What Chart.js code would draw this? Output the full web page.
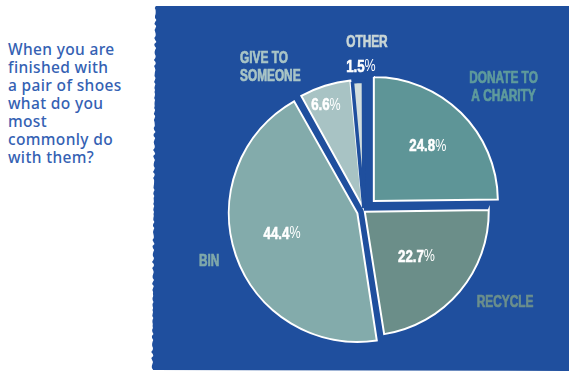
<!DOCTYPE html>
<html>
<head>
<meta charset="utf-8">
<script src="https://cdn.jsdelivr.net/npm/chart.js@4.4.1/dist/chart.umd.min.js"></script>
<style>
  html, body { margin: 0; padding: 0; background: #ffffff; }
  #wrap { position: relative; width: 569px; height: 371px; overflow: hidden; background: #ffffff; }
  #panel { position: absolute; left: 0; top: 6px; width: 569px; height: 365px; background: #1f4f9e; }
  #question {
    position: absolute; left: 8px; top: 40px; width: 145px;
    font-family: 'Noto Sans', 'Open Sans', sans-serif; font-size: 15.5px; line-height: 18px;
    font-weight: 500; letter-spacing: 0.35px; color: #3461b3; white-space: nowrap;
  }
  #chart { position: absolute; left: 0; top: 0; }
</style>
</head>
<body>
<div id="wrap">
  <div id="panel"></div>
  <div id="question">When you are<br>finished with<br>a pair of shoes<br>what do you<br>most<br>commonly do<br>with them?</div>
  <canvas id="chart" width="569" height="371"></canvas>
</div>
<script>
// Ragged, torn-paper left edge of the blue panel
(function () {
  const pts = [];
  for (let y = 0; y <= 365; y += 2) {
    const x = 155.5 - y * 0.009 + 0.5 * Math.sin(y * 2.3) + 0.4 * Math.sin(y * 0.9 + 1) + 0.4 * Math.sin(y * 5.1);
    pts.push(x.toFixed(1) + 'px ' + y + 'px');
  }
  pts.push('569px 365px', '569px 0px');
  document.getElementById('panel').style.clipPath = 'polygon(' + pts.join(',') + ')';
})();

// Survey answers, in drawing order (clockwise from 12 o'clock)
const categories = ['Donate to a charity', 'Recycle', 'Bin', 'Give to someone', 'Other'];
const nameLines = [['DONATE TO', 'A CHARITY'], ['RECYCLE'], ['BIN'], ['GIVE TO', 'SOMEONE'], ['OTHER']];
const shares = [24.8, 22.7, 44.4, 6.6, 1.5];

// Styling
const panelBlue = '#1f4f9e';
const sliceColors = ['#5e9597', '#6b8e89', '#83abab', '#a8c3c4', '#d3dedd'];
const nameColors = ['#5f9b9c', '#6b8f8c', '#80a9aa', '#a9c5c6', '#c9d6d6'];
const outlineColors = ['#ffffff', '#ffffff', '#ffffff', '#ffffff', panelBlue];
const outlineWidths = [2, 2, 2, 2, 3.5];
const explode = [56, 4, 28, 18, 12];          // arc offsets (library units)
// value label: [angle clockwise from top, fraction of radius] around each slice's own tip
const valueAt = [[44.6, 0.62], [131.3, 0.555], [254.7, 0.63], [340.1, 0.87], [358.8, 1.137]];
// category label: [angle, distance px] around the pie centre, and alignment
const nameAt = [[48.6, 186, 'center'], [123.1, 168.4, 'center'], [251.9, 162.9, 'center'], [319.2, 189.7, 'left'], [1.0, 168, 'center']];

const toRad = d => (d - 90) * Math.PI / 180;

function narrowText(ctx, parts, x, y, squeeze, align) {
  ctx.save();
  ctx.textBaseline = 'middle';
  ctx.translate(x, y);
  ctx.scale(squeeze, 1);
  let total = 0;
  parts.forEach(p => { ctx.font = p.font; p.w = ctx.measureText(p.text).width; total += p.w; });
  let cx = align === 'left' ? 0 : -total / 2;
  parts.forEach(p => {
    ctx.font = p.font; ctx.fillStyle = p.color; ctx.strokeStyle = p.color;
    ctx.fillText(p.text, cx, 0);
    if (p.heavy) { ctx.lineWidth = p.heavy; ctx.strokeText(p.text, cx, 0); }
    cx += p.w;
  });
  ctx.restore();
}

const sliceText = {
  id: 'sliceText',
  afterDatasetsDraw(chart) {
    const ctx = chart.ctx;
    const meta = chart.getDatasetMeta(0);
    const ds = chart.data.datasets[0];
    const cx = (chart.chartArea.left + chart.chartArea.right) / 2;
    const cy = (chart.chartArea.top + chart.chartArea.bottom) / 2;
    meta.data.forEach((arc, i) => {
      const p = arc.getProps(['x', 'y', 'startAngle', 'endAngle', 'outerRadius'], true);
      const mid = (p.startAngle + p.endAngle) / 2;
      const shift = (arc.options.offset || 0) / 4;
      const tipX = p.x + Math.cos(mid) * shift;
      const tipY = p.y + Math.sin(mid) * shift;

      // percentage
      const [va, vf] = valueAt[i];
      const vx = tipX + Math.cos(toRad(va)) * vf * p.outerRadius;
      const vy = tipY + Math.sin(toRad(va)) * vf * p.outerRadius;
      narrowText(ctx, [
        { text: ds.data[i].toFixed(1), font: 'bold 17px "Liberation Sans", Arial, sans-serif', color: '#ffffff', heavy: 0.6 },
        { text: '%', font: '16px "Liberation Sans", Arial, sans-serif', color: '#ffffff' }
      ], vx, vy, 0.78, 'center');

      // category name
      const [na, nd, align] = nameAt[i];
      const lines = nameLines[i];
      const nx = cx + Math.cos(toRad(na)) * nd;
      const ny = cy + Math.sin(toRad(na)) * nd;
      lines.forEach((line, k) => {
        const ly = ny + (k - (lines.length - 1) / 2) * 18;
        narrowText(ctx, [{ text: line, font: 'bold 16px "Liberation Sans", Arial, sans-serif', color: nameColors[i], heavy: 0.7 }],
          nx, ly, 0.74, align);
      });
    });
  }
};

new Chart(document.getElementById('chart'), {
  type: 'pie',
  data: {
    labels: categories,
    datasets: [{
      data: shares,
      backgroundColor: sliceColors,
      borderColor: outlineColors,
      borderWidth: outlineWidths,
      borderJoinStyle: 'miter',
      offset: explode,
      hoverOffset: 0,
      radius: 124
    }]
  },
  options: {
    responsive: false,
    animation: false,
    layout: { padding: { left: 159, top: 51, right: 0, bottom: 0 } },
    plugins: { legend: { display: false }, tooltip: { enabled: false } }
  },
  plugins: [sliceText]
});
</script>
</body>
</html>
